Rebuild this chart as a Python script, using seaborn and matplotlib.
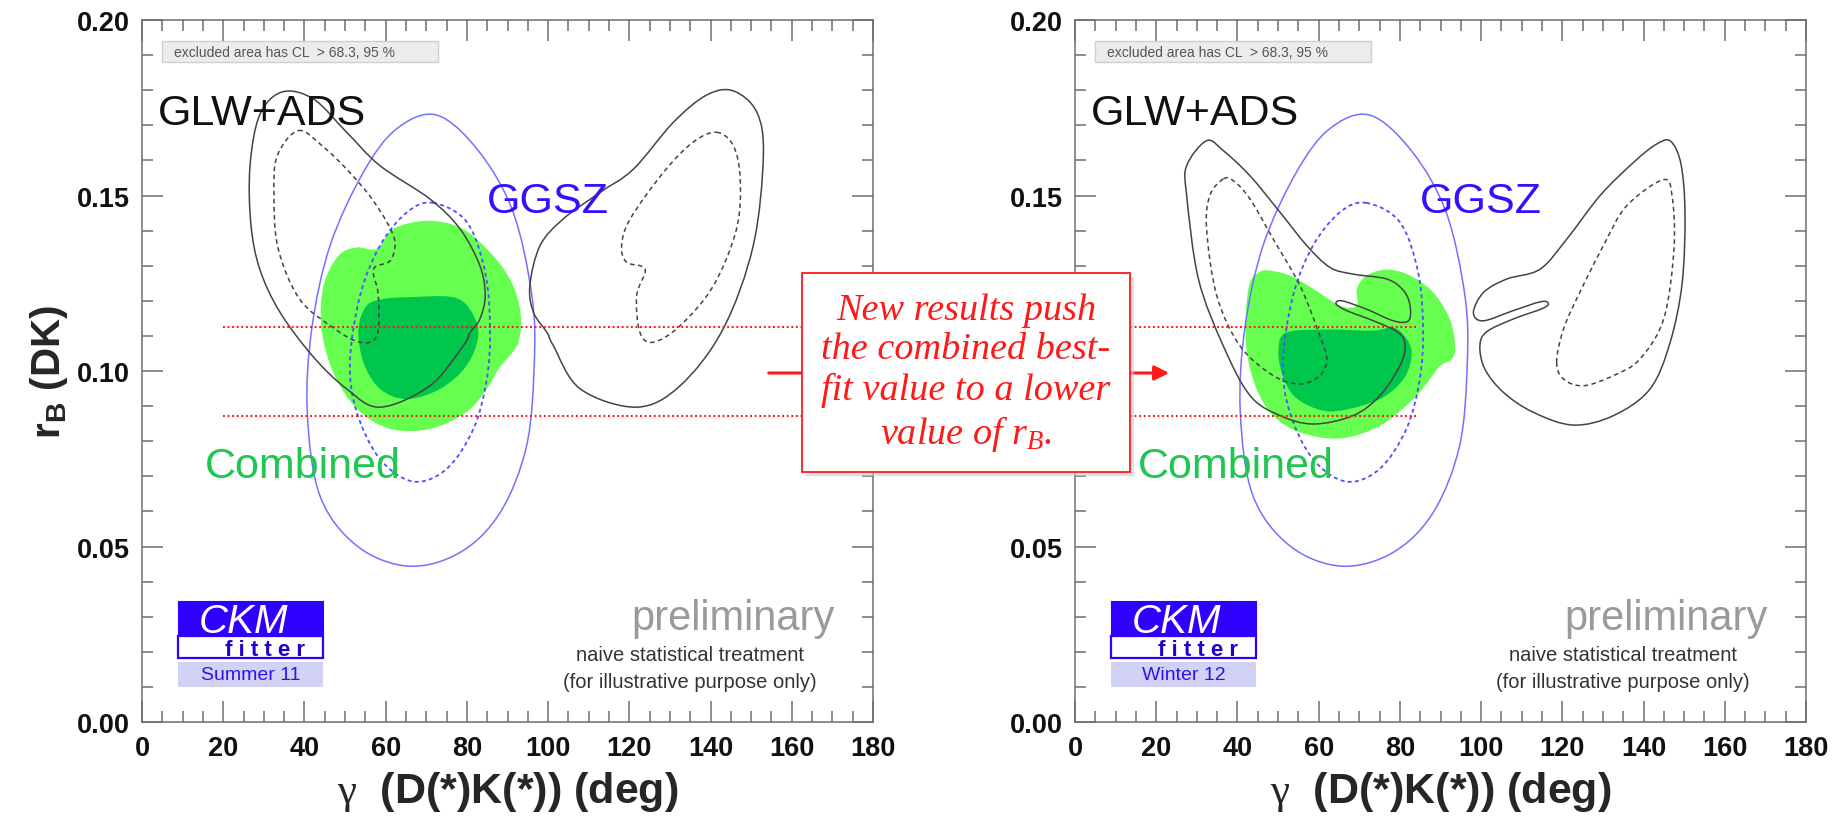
import numpy as np
import pandas as pd
import seaborn as sns
import matplotlib
matplotlib.use("Agg")
import matplotlib.pyplot as plt
from matplotlib.path import Path
from matplotlib.patches import PathPatch, Rectangle, FancyArrowPatch
from matplotlib.ticker import MultipleLocator, FormatStrFormatter

# ---------------------------------------------------------------- data
# GGSZ (Dalitz) regions, gamma [deg] vs r_B
GGSZ95_G = [72.6, 83.0, 91.4, 96.0, 96.6, 94.7, 88.2, 78.3, 65.6, 52.9, 43.8, 40.7, 41.8, 46.3, 54.5, 62.7]
GGSZ95_R = [0.1729, 0.1625, 0.1452, 0.1215, 0.1025, 0.0787, 0.0597, 0.0483, 0.0444, 0.0502, 0.0645, 0.0882,
            0.1120, 0.1357, 0.1566, 0.1690]
GGSZ68_G = [71.7, 80.0, 84.5, 85.7, 84.9, 81.6, 75.0, 66.8, 58.6, 52.9, 51.2, 53.7, 58.6, 65.2]
GGSZ68_R = [0.1479, 0.1424, 0.1281, 0.1120, 0.0977, 0.0835, 0.0721, 0.0685, 0.0749, 0.0882, 0.1025, 0.1215,
            0.1357, 0.1452]

# Summer 11: GLW+ADS regions (two lobes each) and combined regions
S11_GLW95A_G = [34.5, 42.2, 50.4, 58.6, 70.9, 78.3, 83.2, 84.5, 83.2, 80.8, 79.1, 70.9, 58.6, 50.4, 42.2, 34.0,
                29.0, 26.8, 26.6, 29.0]
S11_GLW95A_R = [0.1795, 0.1775, 0.1680, 0.1585, 0.1490, 0.1405, 0.1300, 0.1215, 0.1148, 0.1110, 0.1072, 0.0958,
                0.0897, 0.0949, 0.1040, 0.1167, 0.1290, 0.1420, 0.1585, 0.1730]
S11_GLW95B_G = [145.6, 151.4, 153.0, 150.5, 143.1, 132.5, 121.8, 107.9, 101.3, 99.7, 96.4, 95.5, 98.0, 103.7,
                112.8, 121.0, 130.8, 139.0]
S11_GLW95B_R = [0.1798, 0.1737, 0.1613, 0.1357, 0.1120, 0.0958, 0.0897, 0.0949, 0.1072, 0.1110, 0.1167, 0.1243,
                0.1357, 0.1433, 0.1509, 0.1575, 0.1708, 0.1786]
S11_GLW68A_G = [38.5, 44.5, 50.4, 56.0, 60.3, 62.3, 61.1, 57.0, 58.2, 57.8, 53.7, 47.5, 38.8, 33.5, 32.5, 33.3]
S11_GLW68A_R = [0.1685, 0.1640, 0.1575, 0.1500, 0.1424, 0.1367, 0.1314, 0.1290, 0.1215, 0.1100, 0.1082, 0.1120,
                0.1205, 0.1350, 0.1500, 0.1613]
S11_GLW68B_G = [141.5, 145.6, 147.3, 146.4, 140.7, 132.5, 125.9, 122.6, 121.8, 123.9, 119.3, 118.1, 120.2,
                128.4, 135.7]
S11_GLW68B_R = [0.1680, 0.1642, 0.1547, 0.1405, 0.1243, 0.1129, 0.1082, 0.1110, 0.1215, 0.1290, 0.1310, 0.1357,
                0.1433, 0.1566, 0.1652]
S11_COMB95_G = [70.1, 78.3, 84.9, 90.6, 93.2, 92.7, 89.8, 87.8, 84.9, 79.9, 70.9, 61.1, 52.9, 47.1, 44.2, 44.7,
                48.4, 52.9, 57.8, 61.9]
S11_COMB95_R = [0.1428, 0.1409, 0.1348, 0.1262, 0.1167, 0.1082, 0.1034, 0.1006, 0.0949, 0.0883, 0.0835, 0.0835,
                0.0892, 0.0996, 0.1120, 0.1243, 0.1329, 0.1352, 0.1348, 0.1405]
S11_COMB68_G = [65.2, 76.7, 81.2, 82.8, 79.9, 73.4, 65.2, 58.6, 54.5, 53.3, 55.3, 59.4]
S11_COMB68_R = [0.1210, 0.1210, 0.1167, 0.1100, 0.1015, 0.0949, 0.0920, 0.0949, 0.1025, 0.1120, 0.1186, 0.1205]

# Winter 12
W12_GLW95A_G = [32.4, 27.5, 27.5, 30.4, 36.5, 43.1, 50.5, 58.7, 68.5, 75.1, 80.0, 81.3, 79.6, 73.5, 66.9, 64.3,
                65.7, 71.8, 78.4, 82.1, 82.5, 80.9, 76.8, 68.5, 62.8, 57.1, 50.5, 43.1, 36.5]
W12_GLW95A_R = [0.1656, 0.1585, 0.1500, 0.1262, 0.1072, 0.0930, 0.0873, 0.0849, 0.0873, 0.0930, 0.1015, 0.1072,
                0.1110, 0.1143, 0.1172, 0.1191, 0.1200, 0.1176, 0.1143, 0.1143, 0.1186, 0.1229, 0.1262, 0.1276,
                0.1295, 0.1357, 0.1452, 0.1556, 0.1628]
W12_GLW95B_G = [143.0, 137.5, 129.3, 121.1, 114.5, 106.3, 100.6, 98.1, 100.5, 107.9, 114.5, 116.5, 115.3, 107.9,
                101.4, 99.7, 100.9, 105.5, 112.9, 122.7, 132.6, 141.6, 146.5, 149.5, 150.2, 149.2, 146.6]
W12_GLW95B_R = [0.1645, 0.1594, 0.1500, 0.1376, 0.1290, 0.1262, 0.1224, 0.1167, 0.1143, 0.1172, 0.1197, 0.1194,
                0.1179, 0.1148, 0.1112, 0.1072, 0.1006, 0.0939, 0.0882, 0.0846, 0.0873, 0.0949, 0.1080, 0.1250,
                0.1450, 0.1590, 0.1655]
W12_GLW68A_G = [36.5, 33.2, 32.4, 34.9, 40.6, 48.8, 55.4, 60.3, 62.0, 60.3, 55.4, 48.8, 43.1, 39.0]
W12_GLW68A_R = [0.1547, 0.1500, 0.1405, 0.1215, 0.1072, 0.0987, 0.0963, 0.0987, 0.1034, 0.1100, 0.1243, 0.1376,
                0.1490, 0.1542]
W12_GLW68B_G = [118.6, 120.3, 125.2, 132.6, 139.1, 145.0, 147.5, 147.0, 144.8, 135.8, 130.1, 124.3, 120.3]
W12_GLW68B_R = [0.1025, 0.0977, 0.0958, 0.0987, 0.1034, 0.1150, 0.1350, 0.1500, 0.1545, 0.1470, 0.1357, 0.1224,
                0.1120]
W12_COMB95_G = [48.0, 52.9, 58.7, 65.3, 69.4, 69.4, 71.8, 76.8, 82.5, 88.2, 92.3, 93.6, 92.8, 89.9, 87.4, 83.3,
                75.1, 65.3, 55.4, 48.8, 44.7, 42.3, 42.1, 43.1, 45.6]
W12_COMB95_R = [0.1286, 0.1272, 0.1234, 0.1186, 0.1186, 0.1234, 0.1272, 0.1289, 0.1272, 0.1224, 0.1148, 0.1072,
                0.1034, 0.1015, 0.0977, 0.0920, 0.0844, 0.0808, 0.0825, 0.0873, 0.0949, 0.1053, 0.1167, 0.1253,
                0.1283]
W12_COMB68_G = [52.1, 62.0, 73.5, 78.4, 81.7, 82.9, 80.9, 75.1, 65.3, 59.5, 53.8, 50.9, 50.1]
W12_COMB68_R = [0.1110, 0.1118, 0.1115, 0.1124, 0.1091, 0.1044, 0.0977, 0.0920, 0.0887, 0.0892, 0.0930, 0.0996,
                0.1063]

# previous 1-sigma band of the combined r_B and its gamma extent (left panel -> right panel)
BAND_RB = [0.1125, 0.0873]
BAND_GAMMA = [20.0, 84.0]

SEASONS = ["Summer 11", "Winter 12"]
X_TICKS = [0, 20, 40, 60, 80, 100, 120, 140, 160, 180]
Y_TICKS = [0.00, 0.05, 0.10, 0.15, 0.20]

# ---------------------------------------------------------------- style
sns.set_style("ticks")
plt.rcParams["font.family"] = ["Liberation Sans", "DejaVu Sans"]
plt.rcParams.update({
    "mathtext.fontset": "custom",
    "mathtext.rm": "Liberation Serif",
    "mathtext.it": "Liberation Serif:italic",
    "mathtext.bf": "Liberation Sans:bold",
})

LIGHT_GREEN = "#66ff4f"
DARK_GREEN = "#00c64c"
TEXT_GREEN = "#1fc650"
BLUE_SOLID = "#7272ff"
BLUE_DASH = "#4f4fff"
BLUE_TEXT = "#3311ff"
LOGO_BLUE = "#3000ff"
GREY_LINE = "#444444"
SPINE = "#6e6e6e"
RED = "#ff1a1a"
XLABEL = r"$\mathrm{\gamma}$  (D(*)K(*)) (deg)"
YLABEL = r"$\mathbf{r_B}$ (DK)"


def closed_smooth_path(gx, ry):
    """Closed curve through the given vertices (Catmull-Rom as cubic Beziers)."""
    pts = np.column_stack([gx, ry]).astype(float)
    n = len(pts)
    verts = [pts[0]]
    codes = [Path.MOVETO]
    for i in range(n):
        p0, p1, p2, p3 = pts[i - 1], pts[i], pts[(i + 1) % n], pts[(i + 2) % n]
        verts += [p1 + (p2 - p0) / 6.0, p2 - (p3 - p1) / 6.0, p2]
        codes += [Path.CURVE4] * 3
    verts.append(pts[0])
    codes.append(Path.CLOSEPOLY)
    return Path(verts, codes)


def region(ax, gx, ry, fill=None, edge=None, lw=1.1, ls="-", z=2):
    path = closed_smooth_path(gx, ry)
    if fill is not None:
        ax.add_patch(PathPatch(path, facecolor=fill, edgecolor="none", zorder=z))
    if edge is not None:
        ax.add_patch(PathPatch(path, facecolor="none", edgecolor=edge, lw=lw, linestyle=ls, zorder=z + 1))


def panel(ax, glw95, glw68, comb95, comb68, season):
    ax.set_facecolor("none")
    ax.set_xlim(0, 180)
    ax.set_ylim(0, 0.20)

    # combined regions
    region(ax, *comb95, fill=LIGHT_GREEN, z=1)
    region(ax, *comb68, fill=DARK_GREEN, z=1.5)
    # GGSZ
    region(ax, GGSZ95_G, GGSZ95_R, edge=BLUE_SOLID, lw=1.1, z=3)
    region(ax, GGSZ68_G, GGSZ68_R, edge=BLUE_DASH, lw=1.3, ls=(0, (2.2, 1.8)), z=3)
    # GLW+ADS
    for gx, ry in glw95:
        region(ax, gx, ry, edge=GREY_LINE, lw=1.1, z=3)
    for gx, ry in glw68:
        region(ax, gx, ry, edge=GREY_LINE, lw=1.1, ls=(0, (3.0, 2.3)), z=3)

    # axes cosmetics
    ax.xaxis.set_minor_locator(MultipleLocator(5))
    ax.yaxis.set_minor_locator(MultipleLocator(0.01))
    ax.set_xticks(X_TICKS)
    ax.set_yticks(Y_TICKS)
    ax.yaxis.set_major_formatter(FormatStrFormatter("%.2f"))
    ax.tick_params(which="both", direction="in", top=True, right=True, color=SPINE, width=1.1)
    ax.tick_params(which="major", length=15, labelsize=19.5, labelcolor="#111111", pad=9)
    ax.tick_params(which="minor", length=8)
    for lab in ax.get_xticklabels() + ax.get_yticklabels():
        lab.set_fontweight("bold")
    for sp in ax.spines.values():
        sp.set_visible(True)
        sp.set_color(SPINE)
        sp.set_linewidth(1.1)

    ax.set_xlabel(XLABEL, fontsize=31, fontweight="bold", labelpad=6)
    ax.set_ylabel(YLABEL, fontsize=29, fontweight="bold", labelpad=5)

    # labels on the plot
    ax.text(3.9, 0.1704, "GLW+ADS", fontsize=31, color="#111111", zorder=6)
    ax.text(84.9, 0.1453, "GGSZ", fontsize=31, color=BLUE_TEXT, zorder=6)
    ax.text(15.5, 0.0698, "Combined", fontsize=31, color=TEXT_GREEN, zorder=6)

    # confidence-level note
    ax.add_patch(Rectangle((4.9, 0.1880), 68.0, 0.0060, facecolor="#ececec", edgecolor="#cfcfcf",
                           lw=1.0, zorder=5))
    ax.text(7.8, 0.1910, "excluded area has CL  > 68.3, 95 %", fontsize=10, color="#555555",
            va="center", ha="left", zorder=6)

    # preliminary stamp
    ax.text(170.6, 0.0265, "preliminary", fontsize=30, color="#9a9a9a", ha="right", zorder=6)
    ax.text(135.0, 0.0177, "naive statistical treatment", fontsize=14.5, color="#333333",
            ha="center", zorder=6)
    ax.text(135.0, 0.0100, "(for illustrative purpose only)", fontsize=14.5, color="#333333",
            ha="center", zorder=6)

    # CKMfitter logo
    ax.add_patch(Rectangle((8.9, 0.0244), 35.7, 0.01016, facecolor=LOGO_BLUE, edgecolor=LOGO_BLUE,
                           lw=0.8, zorder=5))
    ax.add_patch(Rectangle((8.9, 0.0181), 35.7, 0.0063, facecolor="white", edgecolor=LOGO_BLUE,
                           lw=1.6, zorder=5))
    ax.add_patch(Rectangle((8.9, 0.0099), 35.7, 0.0071, facecolor="#d2d2f6", edgecolor="none", zorder=5))
    ax.text(14.0, 0.0256, "CKM", fontsize=29, style="italic", color="white", zorder=6)
    ax.text(20.5, 0.0191, "f i t t e r", fontsize=16, fontweight="bold", color="#2200cc", zorder=6)
    ax.text(26.7, 0.01345, season, fontsize=14, color="#3311ee", ha="center", va="center", zorder=6)


fig = plt.figure(figsize=(18.43, 8.2), dpi=100)
ax_l = fig.add_axes([0.07705, 0.11829, 0.39664, 0.85610])
ax_r = fig.add_axes([0.58329, 0.11829, 0.39664, 0.85610])

panel(ax_l,
      [(S11_GLW95A_G, S11_GLW95A_R), (S11_GLW95B_G, S11_GLW95B_R)],
      [(S11_GLW68A_G, S11_GLW68A_R), (S11_GLW68B_G, S11_GLW68B_R)],
      (S11_COMB95_G, S11_COMB95_R), (S11_COMB68_G, S11_COMB68_R), SEASONS[0])
panel(ax_r,
      [(W12_GLW95A_G, W12_GLW95A_R), (W12_GLW95B_G, W12_GLW95B_R)],
      [(W12_GLW68A_G, W12_GLW68A_R), (W12_GLW68B_G, W12_GLW68B_R)],
      (W12_COMB95_G, W12_COMB95_R), (W12_COMB68_G, W12_COMB68_R), SEASONS[1])

# the old 1-sigma band carried from the left panel into the right one
gap_end = ax_l.transData.inverted().transform(ax_r.transData.transform((0, 0)))[0]
for rb in BAND_RB:
    band = pd.DataFrame({"gamma": [BAND_GAMMA[0], gap_end], "rB": [rb, rb]})
    sns.lineplot(data=band, x="gamma", y="rB", ax=ax_l, color=RED, lw=1.5, linestyle=(0, (0.9, 1.3)),
                 clip_on=False, zorder=7)
    band_r = pd.DataFrame({"gamma": [0.0, BAND_GAMMA[1]], "rB": [rb, rb]})
    sns.lineplot(data=band_r, x="gamma", y="rB", ax=ax_r, color=RED, lw=1.5, linestyle=(0, (0.9, 1.3)),
                 clip_on=False, zorder=7)
ax_l.set_xlabel(XLABEL, fontsize=31, fontweight="bold", labelpad=6)
ax_l.set_ylabel(YLABEL, fontsize=29, fontweight="bold", labelpad=5)
ax_r.set_xlabel(XLABEL, fontsize=31, fontweight="bold", labelpad=6)
ax_r.set_ylabel("")
# the message box sits on top of the right panel's middle y tick label
ax_r.get_yticklabels()[2].set_visible(False)

# arrow and message box between the panels
fig.add_artist(FancyArrowPatch((0.4156, 0.5439), (0.6359, 0.5439), transform=fig.transFigure,
                               arrowstyle="-|>", mutation_scale=22, color=RED, lw=2.2, zorder=5))
fig.add_artist(Rectangle((0.43516 + 0.0022, 0.42317 - 0.0045), 0.17797, 0.24268, transform=fig.transFigure,
                         facecolor="#cccccc", edgecolor="none", alpha=0.6, zorder=6))
fig.add_artist(Rectangle((0.43516, 0.42317), 0.17797, 0.24268, transform=fig.transFigure,
                         facecolor="white", edgecolor=RED, lw=1.3, zorder=7))
fig.text(0.52415, 0.5445,
         "New results push\nthe combined best-\nfit value to a lower\nvalue of $r_B$.",
         family="Liberation Serif", style="italic", fontsize=27.5, color=RED,
         ha="center", va="center", linespacing=1.2, zorder=8)

fig.savefig("out.png", dpi=100, facecolor="white")
